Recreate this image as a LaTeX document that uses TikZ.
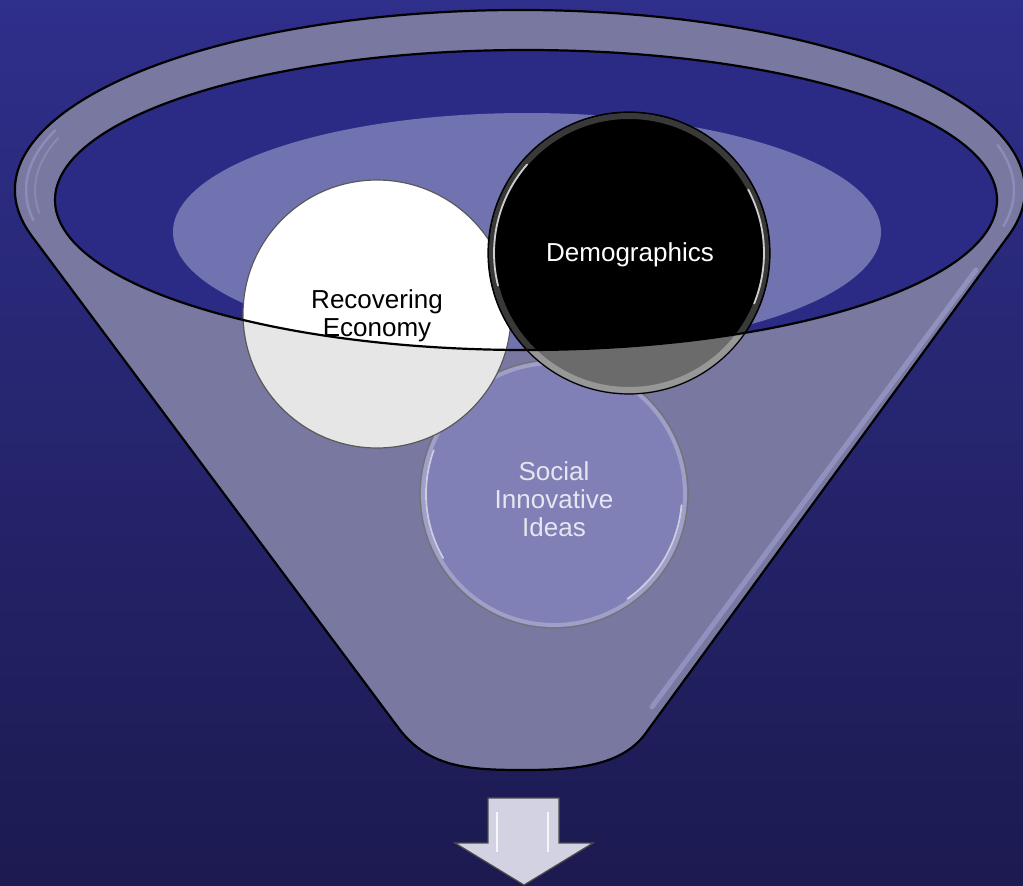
\documentclass[tikz,border=0pt]{standalone}
\usepackage{fontspec}
\setmainfont{Liberation Sans}
\definecolor{bgtop}{HTML}{2F2F8C}
\definecolor{bgbot}{HTML}{1C1A50}
\definecolor{funnelbody}{HTML}{7878A0}
\definecolor{rimglow}{HTML}{9A9ACC}
\definecolor{bowl}{HTML}{2B2B86}
\definecolor{liquid}{HTML}{7073B0}
\definecolor{socialfill}{HTML}{8080B6}
\definecolor{sociallabel}{HTML}{E6E6F2}
\definecolor{whitelow}{HTML}{E6E6E6}
\definecolor{blacklow}{HTML}{6B6B6B}
\definecolor{arrowfill}{HTML}{D2D2E2}
\begin{document}
\begin{tikzpicture}[x=1pt,y=-1pt,
  outline/.style={draw=black,line width=2.2pt},
  ballrim/.style={draw=black!65,line width=1.2pt},
  gloss/.style={white,line width=1.8pt,opacity=0.75,line cap=round},
  ballfont/.style={font=\fontsize{26}{28}\selectfont,align=center,inner sep=0pt}]
\useasboundingbox (0,0) rectangle (1023,886);
% backdrop
\shade[top color=bgtop,bottom color=bgbot] (0,0) rectangle (1023,886);

% funnel: rim ellipse merged with the tapering body
\path[fill=funnelbody,outline]
  (32.2,236.6) arc[start angle=165,end angle=375,x radius=505,y radius=180]
  -- (648,730) .. controls (625,765) and (580,770) .. (524,770)
  .. controls (470,770) and (430,768) .. (400,730) -- cycle;
% sheen on the rim and along the right wall
\draw[rimglow,line width=2.5pt,opacity=0.6]
  (520,190) ++(170:494 and 176) arc[start angle=170,end angle=200,x radius=494,y radius=176];
\draw[rimglow,line width=2pt,opacity=0.5]
  (520,190) ++(172:485 and 170) arc[start angle=172,end angle=198,x radius=485,y radius=170];
\draw[rimglow,line width=2.5pt,opacity=0.6]
  (520,190) ++(-15:494 and 176) arc[start angle=-15,end angle=12,x radius=494,y radius=176];
\draw[rimglow,line width=5pt,opacity=0.75,line cap=round] (976,270) -- (652,707);

% opening of the funnel and the liquid surface
\fill[bowl] (526,200) ellipse[x radius=471,y radius=150];
\begin{scope}
  \clip (526,200) ellipse[x radius=471,y radius=150];
  \fill[liquid] (527,232) ellipse[x radius=354,y radius=119];
\end{scope}

% ball: social innovative ideas (below the front edge)
\fill[socialfill] (554,494) circle[radius=134];
\draw[white,opacity=0.25,line width=4pt] (554,494) circle[radius=131];
\draw[ballrim,draw=black!55] (554,494) circle[radius=134];
\draw[gloss,opacity=0.6] (554,494) ++(150:128) arc[start angle=150,end angle=200,radius=128];
\draw[gloss,opacity=0.6] (554,494) ++(5:128) arc[start angle=5,end angle=55,radius=128];

% ball: recovering economy
\fill[whitelow] (377,314) circle[radius=134];
\begin{scope}
  \clip (526,200) ellipse[x radius=471,y radius=150];
  \fill[white] (377,314) circle[radius=134];
\end{scope}
\draw[ballrim] (377,314) circle[radius=134];

% ball: demographics
\fill[blacklow] (629,253) circle[radius=141];
\draw[white,opacity=0.3,line width=6pt] (629,253) circle[radius=137];
\begin{scope}
  \clip (526,200) ellipse[x radius=471,y radius=150];
  \fill[black] (629,253) circle[radius=141];
  \draw[gray,opacity=0.45,line width=6pt] (629,253) circle[radius=137];
\end{scope}
\draw[ballrim,draw=black] (629,253) circle[radius=141];
\draw[gloss] (629,253) ++(166:135) arc[start angle=166,end angle=221,radius=135];
\draw[gloss] (629,253) ++(-28:135) arc[start angle=-28,end angle=22,radius=135];

% labels
\node[ballfont,text=sociallabel] (social) at (554,499) {Social\\Innovative\\Ideas};
\node[ballfont,text=black] (recov) at (377,316) {Recovering\\Economy};
\node[ballfont,text=white] (demo) at (630,255) {Demographics};

% front edge of the opening, over the balls
\draw[outline] (526,200) ellipse[x radius=471,y radius=150];

% output arrow
\path[fill=arrowfill,draw=black!70,line width=1.2pt]
  (488,798) -- (559,798) -- (559,843) -- (593,843) -- (524,885)
  -- (455,843) -- (488,843) -- cycle;
\draw[white,line width=2.5pt,opacity=0.8] (497,812) -- (497,852);
\draw[white,line width=2.5pt,opacity=0.8] (548,812) -- (548,852);
\end{tikzpicture}
\end{document}
